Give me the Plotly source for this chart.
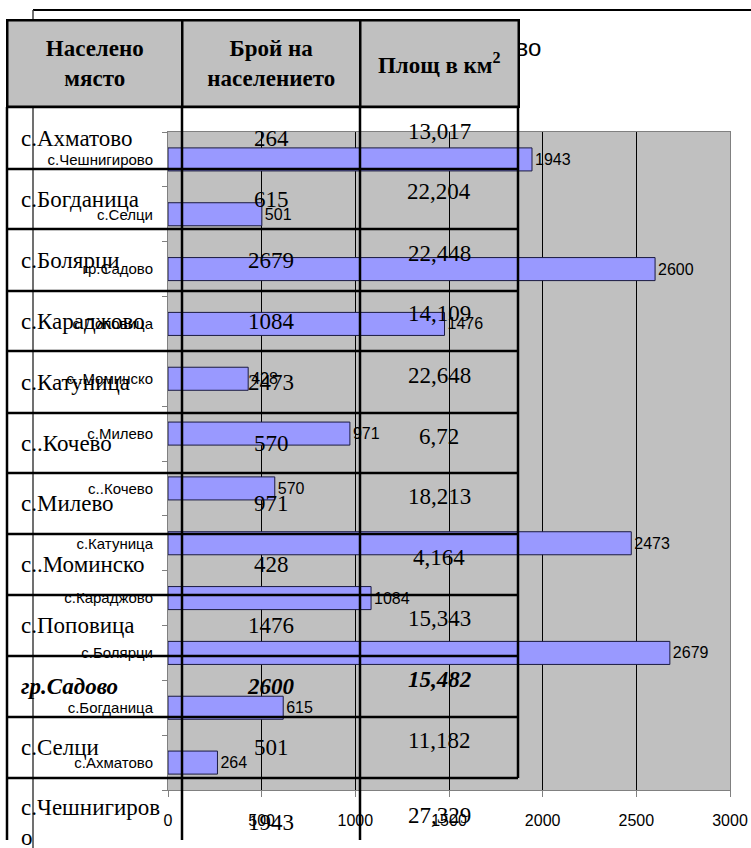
import plotly.graph_objects as go

W, H = 751, 848

# ---------------- data ----------------
places = ["с.Ахматово", "с.Богданица", "с.Болярци", "с.Караджово", "с.Катуница",
          "с..Кочево", "с.Милево", "с..Моминско", "с.Поповица", "гр.Садово",
          "с.Селци", "с.Чешнигирово"]
population = [264, 615, 2679, 1084, 2473, 570, 971, 428, 1476, 2600, 501, 1943]
area = ["13,017", "22,204", "22,448", "14,109", "22,648", "6,72", "18,213",
        "4,164", "15,343", "15,482", "11,182", "27,329"]
header = ["Населено<br>място", "Брой на<br>населението", "Площ в км<sup>2</sup>"]
title_text = "Население в община Садово"
x_ticks = [0, 500, 1000, 1500, 2000, 2500, 3000]

# ---------------- layout geometry (pixels) ----------------
PLOT_L, PLOT_R, PLOT_T, PLOT_B = 168, 730, 132, 790
col_edges = [7, 182, 360, 518]
row_edges = [21, 107, 169, 229, 291, 351, 413, 473, 534, 595, 656, 717, 778]
TABLE_BOTTOM = 840
LAST_ROW_BOTTOM = 866
BW = 2.5

SANS = "Liberation Sans, Arial"
SERIF = "Liberation Serif, Times New Roman, serif"


def px(x):
    return x / W


def py(y):
    return 1 - y / H


fig = go.Figure()

# bars (chart lists categories from bottom to top)
fig.add_trace(go.Bar(
    y=places, x=population, orientation="h",
    marker=dict(color="#9999FF", line=dict(color="#1a1a40", width=1)),
    width=0.42, text=[str(v) for v in population], textposition="outside",
    textfont=dict(family=SANS, size=16, color="black"), cliponaxis=False,
    showlegend=False))

fig.update_layout(
    width=W, height=H, margin=dict(l=0, r=0, t=0, b=0, autoexpand=False), autosize=False,
    paper_bgcolor="white", plot_bgcolor="#C0C0C0",
    xaxis=dict(domain=[px(PLOT_L), px(PLOT_R)], range=[0, 3000],
               tickvals=x_ticks, ticktext=[str(v) for v in x_ticks],
               showgrid=True, gridcolor="black", gridwidth=1, zeroline=False,
               showline=True, linecolor="#808080", linewidth=1, mirror=True,
               ticks="outside", ticklen=6, tickcolor="#808080",
               ticklabelstandoff=10, automargin=False,
               tickfont=dict(family=SANS, size=16, color="black"), fixedrange=True),
    yaxis=dict(domain=[py(PLOT_B), py(PLOT_T)], type="category",
               categoryorder="array", categoryarray=places,
               showgrid=False, zeroline=False,
               showline=True, linecolor="#808080", linewidth=1, mirror=True,
               ticks="outside", ticklen=5, tickcolor="#808080", tickson="boundaries",
               ticklabelstandoff=11, automargin=False,
               tickfont=dict(family=SANS, size=15, color="black"), fixedrange=True),
)

shapes = []
# chart outer frame
shapes.append(dict(type="line", xref="paper", yref="paper", x0=px(33), x1=1, y0=py(10), y1=py(10),
                   line=dict(color="black", width=2), layer="above"))
shapes.append(dict(type="line", xref="paper", yref="paper", x0=px(33), x1=px(33), y0=py(10), y1=0,
                   line=dict(color="#404040", width=1.5), layer="above"))
# table horizontal lines (data rows)
for r in row_edges[1:]:
    shapes.append(dict(type="line", xref="paper", yref="paper",
                       x0=px(col_edges[0]), x1=px(col_edges[-1]), y0=py(r), y1=py(r),
                       line=dict(color="black", width=BW), layer="above"))
# table vertical lines
for c in col_edges:
    y_end = row_edges[-1] if c == col_edges[-1] else TABLE_BOTTOM
    shapes.append(dict(type="line", xref="paper", yref="paper",
                       x0=px(c), x1=px(c), y0=py(row_edges[1]), y1=py(y_end),
                       line=dict(color="black", width=BW), layer="above"))
fig.update_layout(shapes=shapes)

annotations = []
# chart title (partly covered by the table header drawn after it)
annotations.append(dict(xref="paper", yref="paper", x=px(543), y=py(47), text=title_text,
                        showarrow=False, xanchor="right", yanchor="middle",
                        font=dict(family="Liberation Sans, Arial", size=24, color="black")))

# header cells: grey boxes with black borders, drawn above the title
hdr_mid = (row_edges[0] + row_edges[1]) / 2
hdr_h = row_edges[1] - row_edges[0]
for i, h in enumerate(header):
    x0, x1 = col_edges[i], col_edges[i + 1]
    annotations.append(dict(xref="paper", yref="paper", x=px((x0 + x1) / 2), y=py(hdr_mid),
                            text="<b>" + h + "</b>", showarrow=False,
                            xanchor="center", yanchor="middle", align="center", valign="middle",
                            width=(x1 - x0) - BW, height=hdr_h - BW,
                            bgcolor="#C0C0C0", bordercolor="black", borderwidth=BW, borderpad=0,
                            font=dict(family=SERIF, size=23, color="black")))

col_centers = [(col_edges[i] + col_edges[i + 1]) / 2 for i in range(3)]
bottoms = row_edges[2:] + [LAST_ROW_BOTTOM]
tops = row_edges[1:]
for i, name in enumerate(places):
    mid = (tops[i] + bottoms[i]) / 2
    label = name
    pop = str(population[i])
    ar = area[i]
    if name == "с.Чешнигирово":
        label = "с.Чешнигиров<br>о"
    if name.startswith("гр."):
        label = "<b><i>" + label + "</i></b>"
        pop = "<b><i>" + pop + "</i></b>"
        ar = "<b><i>" + ar + "</i></b>"
    annotations.append(dict(xref="paper", yref="paper", x=px(19), y=py(mid), text=label,
                            showarrow=False, xanchor="left", yanchor="middle", align="left",
                            font=dict(family=SERIF, size=23, color="black")))
    annotations.append(dict(xref="paper", yref="paper", x=px(col_centers[1]), y=py(mid), text=pop,
                            showarrow=False, xanchor="center", yanchor="middle",
                            font=dict(family=SERIF, size=23, color="black")))
    annotations.append(dict(xref="paper", yref="paper", x=px(col_centers[2]), y=py(mid - 7), text=ar,
                            showarrow=False, xanchor="center", yanchor="middle",
                            font=dict(family=SERIF, size=23, color="black")))
fig.update_layout(annotations=annotations)

page_fix = (
    "var hs=document.documentElement.style;hs.margin='0';hs.padding='0';hs.overflow='hidden';"
    "hs.width='751px';hs.height='848px';"
    "var bs=document.body.style;bs.margin='0';bs.padding='0';bs.overflow='hidden';"
    "bs.width='751px';bs.height='848px';"
)

fig.write_html(
    "out.html",
    config={"displayModeBar": False, "responsive": False},
    post_script=page_fix,
)
